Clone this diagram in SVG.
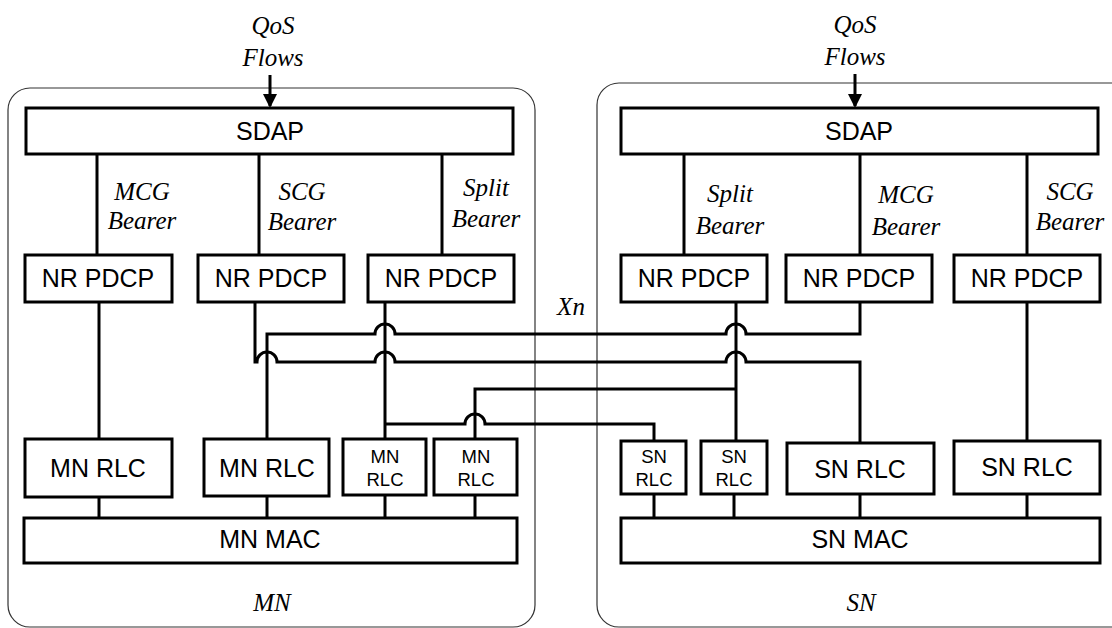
<svg xmlns="http://www.w3.org/2000/svg" width="1112" height="628" viewBox="0 0 1112 628">
<style>
.cont{fill:none;stroke:#333;stroke-width:1.2}
.box{fill:#fff;stroke:#000;stroke-width:3}
.ln{fill:none;stroke:#000;stroke-width:3;stroke-linejoin:miter}
.t{font-family:"Liberation Sans",Arial,sans-serif;font-size:25px;text-anchor:middle;fill:#000}
.ts{font-family:"Liberation Sans",Arial,sans-serif;font-size:18.5px;text-anchor:middle;fill:#000}
.it{font-family:"Liberation Serif","Times New Roman",serif;font-style:italic;font-size:25px;text-anchor:middle;fill:#000}
</style>
<defs>
<marker id="arr" markerUnits="userSpaceOnUse" markerWidth="14" markerHeight="16" refX="12" refY="7" orient="auto">
<path d="M0,0 L14,7 L0,14 z" fill="#000"/>
</marker>
</defs>
<rect width="1112" height="628" fill="#fff"/>

<g id="mn-container">
<rect class="cont" x="8" y="88" width="527" height="539" rx="22"/>
<text class="it" x="272" y="611">MN</text>
</g>
<g id="sn-container">
<rect class="cont" x="597" y="83" width="540" height="544" rx="22"/>
<text class="it" x="861" y="611">SN</text>
</g>

<g id="connectors">
<path class="ln" d="M270,75 V106" marker-end="url(#arr)"/>
<path class="ln" d="M855,74 V106" marker-end="url(#arr)"/>
<path class="ln" d="M97,154 V255 M259,154 V255 M442,154 V255"/>
<path class="ln" d="M684,154 V255 M860,154 V255 M1027,154 V255"/>
<path class="ln" d="M99,302 V439"/>
<path class="ln" d="M1027,302 V441"/>
<path class="ln" d="M255,302 V362 H257 A10,10 0 0 1 277,362 H375 A10,10 0 0 1 395,362 H726 A10,10 0 0 1 746,362 H860 V443"/>
<path class="ln" d="M860,302 V334 H746 A10,10 0 0 0 726,334 H395 A10,10 0 0 0 375,334 H267 V439"/>
<path class="ln" d="M385,302 V439 M385,424 H465 A10,10 0 0 1 485,424 H654 V441"/>
<path class="ln" d="M736,302 V441 M736,389 H475 V439"/>
<path class="ln" d="M99,497 V518 M267,496 V518 M385,495 V518 M475,495 V518"/>
<path class="ln" d="M654,494 V518 M734,494 V518 M860,494 V518 M1027,494 V518"/>
</g>

<g id="mn-labels">
<text class="it" x="273" y="34">QoS</text>
<text class="it" x="273" y="66">Flows</text>
<text class="it" x="142" y="200">MCG</text>
<text class="it" x="142" y="229">Bearer</text>
<text class="it" x="302" y="200">SCG</text>
<text class="it" x="302" y="230">Bearer</text>
<text class="it" x="486" y="196">Split</text>
<text class="it" x="486" y="227">Bearer</text>
</g>
<g id="sn-labels">
<text class="it" x="855" y="33">QoS</text>
<text class="it" x="855" y="65">Flows</text>
<text class="it" x="730" y="202">Split</text>
<text class="it" x="730" y="234">Bearer</text>
<text class="it" x="906" y="203">MCG</text>
<text class="it" x="906" y="235">Bearer</text>
<text class="it" x="1070" y="200">SCG</text>
<text class="it" x="1070" y="230">Bearer</text>
<text class="it" x="571" y="315">Xn</text>
</g>

<g id="mn-sdap"><rect class="box" x="26" y="108" width="487" height="46"/><text class="t" x="270" y="140">SDAP</text></g>
<g id="sn-sdap"><rect class="box" x="621" y="108" width="477" height="46"/><text class="t" x="859" y="140">SDAP</text></g>

<g id="mn-pdcp1"><rect class="box" x="25" y="255" width="147" height="47"/><text class="t" x="98" y="287">NR PDCP</text></g>
<g id="mn-pdcp2"><rect class="box" x="198" y="255" width="146" height="47"/><text class="t" x="271" y="287">NR PDCP</text></g>
<g id="mn-pdcp3"><rect class="box" x="368" y="255" width="146" height="47"/><text class="t" x="441" y="287">NR PDCP</text></g>
<g id="sn-pdcp1"><rect class="box" x="621" y="255" width="146" height="47"/><text class="t" x="694" y="287">NR PDCP</text></g>
<g id="sn-pdcp2"><rect class="box" x="786" y="255" width="146" height="47"/><text class="t" x="859" y="287">NR PDCP</text></g>
<g id="sn-pdcp3"><rect class="box" x="954" y="255" width="146" height="47"/><text class="t" x="1027" y="287">NR PDCP</text></g>

<g id="mn-rlc1"><rect class="box" x="25" y="439" width="147" height="58"/><text class="t" x="98" y="477">MN RLC</text></g>
<g id="mn-rlc2"><rect class="box" x="204" y="439" width="125" height="57"/><text class="t" x="267" y="477">MN RLC</text></g>
<g id="mn-rlc3"><rect class="box" x="343" y="439" width="83" height="56"/><text class="ts" x="385" y="463">MN</text><text class="ts" x="385" y="486">RLC</text></g>
<g id="mn-rlc4"><rect class="box" x="434" y="439" width="83" height="56"/><text class="ts" x="476" y="463">MN</text><text class="ts" x="476" y="486">RLC</text></g>
<g id="sn-rlc1"><rect class="box" x="621" y="441" width="65" height="53"/><text class="ts" x="654" y="463">SN</text><text class="ts" x="654" y="486">RLC</text></g>
<g id="sn-rlc2"><rect class="box" x="701" y="441" width="66" height="53"/><text class="ts" x="734" y="463">SN</text><text class="ts" x="734" y="486">RLC</text></g>
<g id="sn-rlc3"><rect class="box" x="787" y="443" width="147" height="51"/><text class="t" x="860" y="478">SN RLC</text></g>
<g id="sn-rlc4"><rect class="box" x="954" y="441" width="146" height="53"/><text class="t" x="1027" y="476">SN RLC</text></g>

<g id="mn-mac"><rect class="box" x="24" y="518" width="493" height="45"/><text class="t" x="270" y="548">MN MAC</text></g>
<g id="sn-mac"><rect class="box" x="621" y="518" width="479" height="45"/><text class="t" x="860" y="548">SN MAC</text></g>
</svg>
